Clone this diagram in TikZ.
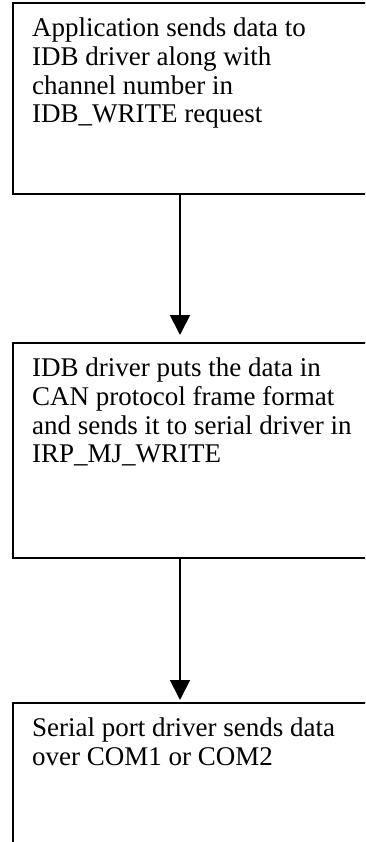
\documentclass[tikz,border=0pt]{standalone}
\usepackage{fontspec}
\setmainfont{Liberation Serif}
\usetikzlibrary{arrows.meta}
\begin{document}
\begin{tikzpicture}[x=1pt,y=-1pt,
  stepbox/.style={draw, line width=1.8pt, rectangle, anchor=north west,
    minimum width=400pt, inner sep=0pt},
  txt/.style={anchor=north west, align=left, inner sep=0pt,
    font=\fontsize{27pt}{28.6pt}\selectfont},
  flow/.style={line width=1.8pt, -{Triangle[width=20pt,length=20pt]}}]
\useasboundingbox (0,0) rectangle (365,842);
\clip (0,0) rectangle (365,842);

% process boxes (they run past the right and bottom edges)
\node[stepbox, minimum height=191pt] (b1) at (12,2) {};
\node[stepbox, minimum height=215pt] (b2) at (12,342) {};
\node[stepbox, minimum height=170pt] (b3) at (12,702) {};

% box texts
\node[txt] (t1) at ([xshift=20pt,yshift=-16pt]b1.north west)
  {Application sends data to\\IDB driver along with\\channel number in\\IDB\_WRITE request};
\node[txt] (t2) at ([xshift=20pt,yshift=-16pt]b2.north west)
  {IDB driver puts the data in\\CAN protocol frame format\\and sends it to serial driver in\\IRP\_MJ\_WRITE};
\node[txt] (t3) at ([xshift=20pt,yshift=-16pt]b3.north west)
  {Serial port driver sends data\\over COM1 or COM2};

% flow arrows
\draw[flow] ([xshift=168pt]b1.south west) -- ([xshift=168pt,yshift=7pt]b2.north west);
\draw[flow] ([xshift=168pt]b2.south west) -- ([xshift=168pt,yshift=2pt]b3.north west);
\end{tikzpicture}
\end{document}
